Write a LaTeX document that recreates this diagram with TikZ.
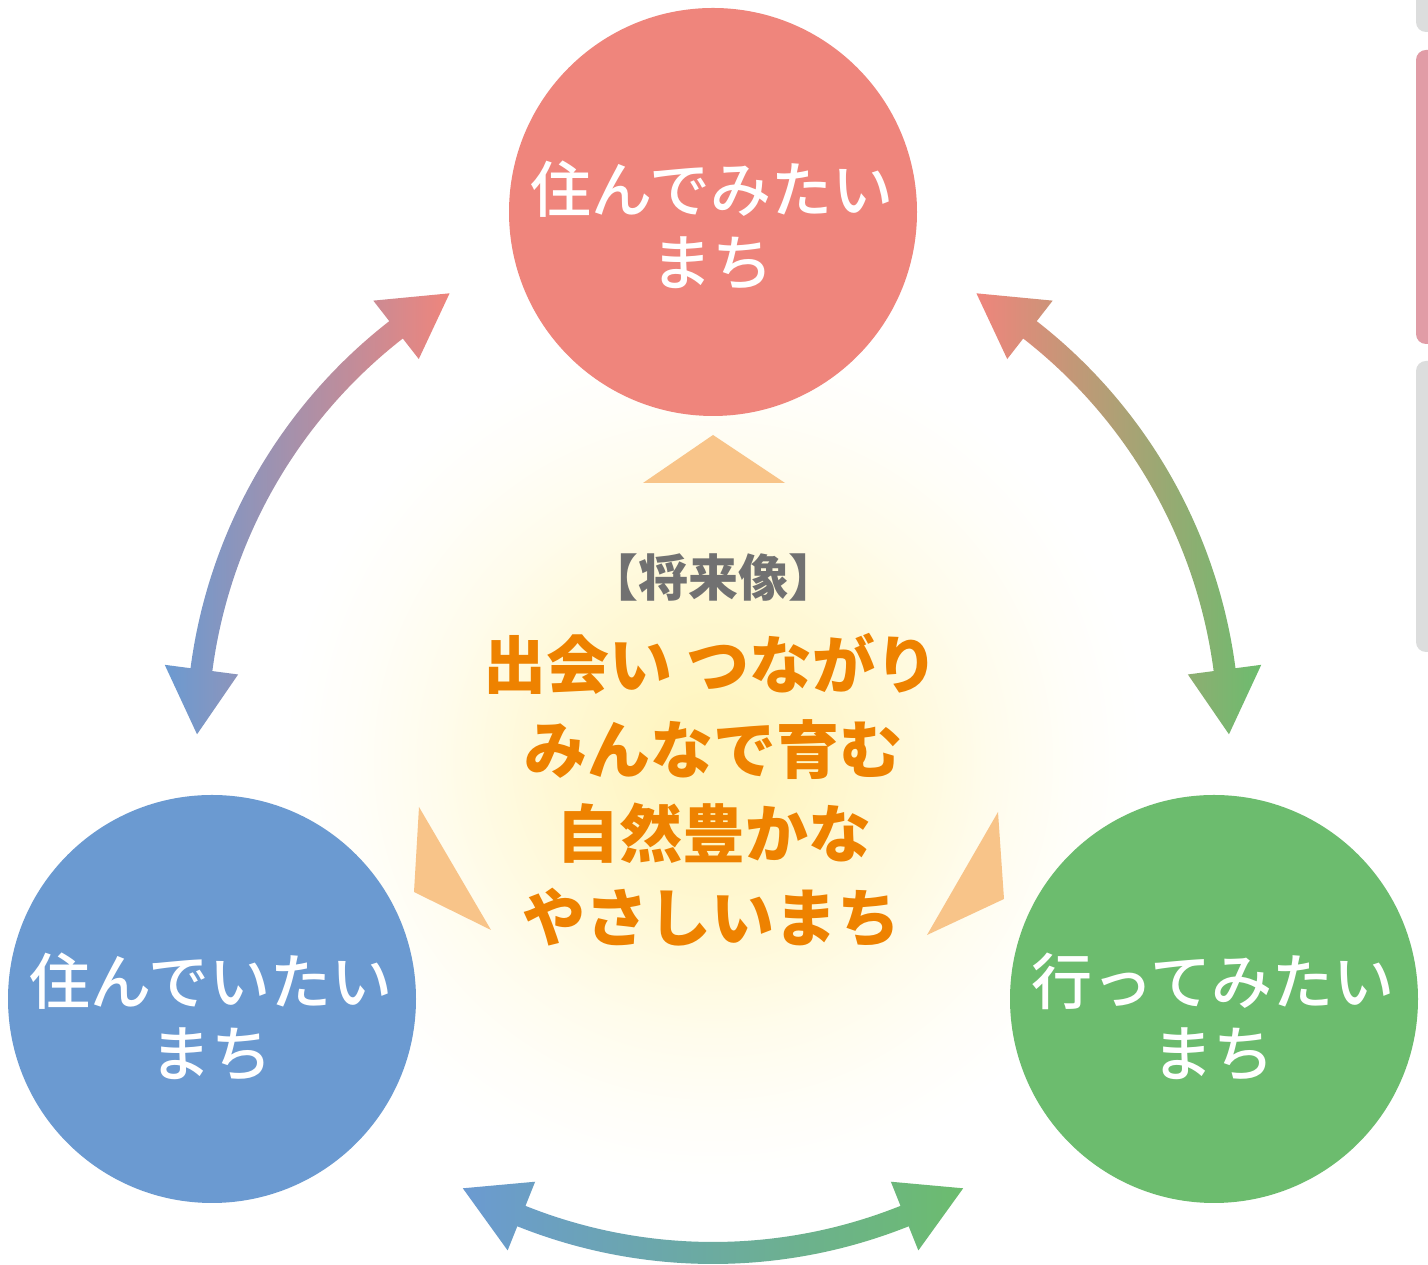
\documentclass[tikz,border=0pt]{standalone}
\usepackage{fontspec}
\newfontfamily\cjk{Noto Sans CJK JP}
\IfFontExistsTF{Noto Sans CJK JP Medium}
  {\newfontfamily\cjkmed{Noto Sans CJK JP Medium}}
  {\newfontfamily\cjkmed{Noto Sans CJK JP}}
\definecolor{cpink}{HTML}{EF857C}
\definecolor{cblue}{HTML}{6B9AD1}
\definecolor{cgreen}{HTML}{6CBC6E}
\definecolor{corange}{HTML}{EE8200}
\definecolor{ctri}{HTML}{F8C489}
\definecolor{cgraytxt}{HTML}{717171}
\definecolor{cbar}{HTML}{DCDDDD}
\definecolor{cbarpink}{HTML}{E19CA6}
\definecolor{glowA}{HTML}{FFF5C0}
\colorlet{glowB}{glowA!65!white}
\colorlet{glowC}{glowA!30!white}
\colorlet{glowD}{glowA!10!white}
\pgfdeclareradialshading{glow}{\pgfpoint{0bp}{0bp}}{color(0bp)=(glowA); color(3bp)=(glowA); color(10bp)=(glowB); color(16bp)=(glowC); color(21bp)=(glowD); color(25bp)=(white); color(50bp)=(white)}
\newcommand\dblarrow[4]{%
  \shade[left color=#3, right color=#4, shift={(713,528)}]
    (#1:516) -- ({#1+7.2}:479) -- ({#1+7.2}:505)
    arc[start angle={#1+7.2}, end angle={#2-7.2}, radius=505]
    -- ({#2-7.2}:479) -- (#2:516) -- ({#2-7.2}:553) -- ({#2-7.2}:527)
    arc[start angle={#2-7.2}, end angle={#1+7.2}, radius=527]
    -- ({#1+7.2}:553) -- cycle;}
\tikzset{
  bubble/.style={circle, inner sep=0pt, minimum size=408pt},
  circtxt/.style={text=white, font=\cjkmed\fontsize{61}{61}\selectfont, anchor=base, inner sep=0pt},
  maintxt/.style={text=corange, font=\cjk\bfseries\fontsize{63}{63}\selectfont, anchor=base, inner sep=0pt},
  headtxt/.style={text=cgraytxt, font=\cjk\bfseries\fontsize{50}{50}\selectfont, anchor=base, inner sep=0pt},
  tri/.style={fill=ctri},
  bar/.style={rounded corners=10pt}
}
\begin{document}
\begin{tikzpicture}[x=1pt, y=1pt]
\useasboundingbox (0,0) rectangle (1428,1265);
\fill[white] (0,0) rectangle (1428,1265);
\begin{scope}
\clip (0,0) rectangle (1428,1265);
% background glow
\shade[shading=glow] (713,505) circle (430);
% side bars
\fill[cbar, bar] (1416,1233) rectangle (1460,1300);
\fill[cbarpink, bar] (1416,921) rectangle (1460,1215);
\fill[cbar, bar] (1416,613) rectangle (1460,904);
\end{scope}
% orange triangles
\fill[tri] (643,782) -- (713,830) -- (785,782) -- cycle;
\fill[tri] (419,458) -- (414,373) -- (491,335) -- cycle;
\fill[tri] (998,453) -- (1004,366) -- (927,330) -- cycle;
% double arrows
\dblarrow{120.7}{179.7}{cblue}{cpink}
\dblarrow{241}{299}{cblue}{cgreen}
\dblarrow{0.3}{59.3}{cpink}{cgreen}
% circles
\node[bubble, fill=cpink] (top) at (713,1053) {};
\node[bubble, fill=cblue] (left) at (212,266) {};
\node[bubble, fill=cgreen] (right) at (1214,266) {};
% circle texts
\node[circtxt] (t1) at (712,1052) {住んでみたい};
\node[circtxt] (t2) at (712,979) {まち};
\node[circtxt] (l1) at (211,260) {住んでいたい};
\node[circtxt] (l2) at (211,188) {まち};
\node[circtxt] (r1) at (1213,260) {行ってみたい};
\node[circtxt] (r2) at (1213,188) {まち};
% central text
\node[headtxt] (h) at (713,668) {【将来像】};
\node[maintxt] (m1) at (711,576) {出会い つながり};
\node[maintxt] (m2) at (713,491) {みんなで育む};
\node[maintxt] (m3) at (714,407) {自然豊かな};
\node[maintxt] (m4) at (711,323) {やさしいまち};
\end{tikzpicture}
\end{document}
